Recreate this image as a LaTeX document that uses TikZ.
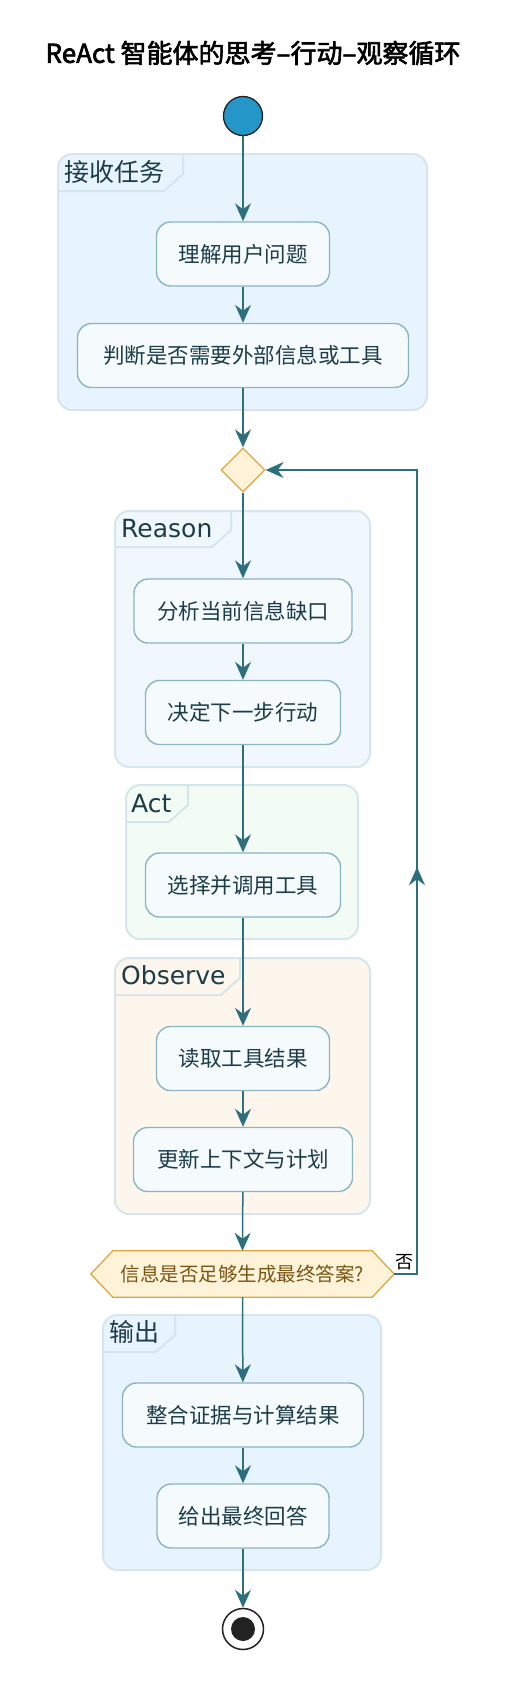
\documentclass[tikz,border=0pt]{standalone}
\usepackage{fontspec}
\setmainfont{Noto Sans CJK SC}
\newfontfamily\titlefont{Noto Sans CJK SC}[FakeBold=2.4]
\newfontfamily\latinlab{DejaVu Sans}
\usetikzlibrary{shapes.geometric,arrows.meta,decorations.markings,calc}
\definecolor{flowcol}{HTML}{2E6F7E}
\definecolor{boxline}{HTML}{8AB5C2}
\definecolor{boxfill}{HTML}{F5FAFD}
\definecolor{txt}{HTML}{1C3D48}
\definecolor{partline}{HTML}{D5E6EC}
\definecolor{pblue}{HTML}{E8F4FD}
\definecolor{preason}{HTML}{F0F7FD}
\definecolor{pact}{HTML}{F2FCF5}
\definecolor{pobs}{HTML}{FDF6EC}
\definecolor{diafill}{HTML}{FEF3D8}
\definecolor{dialine}{HTML}{E0A640}
\definecolor{hextxt}{HTML}{7A5512}
\definecolor{startfill}{HTML}{2596C8}
\definecolor{dark}{HTML}{222222}
\tikzset{
  arrowtip/.tip={Stealth[length=18pt,width=16pt,inset=6pt]},
  flow/.style={draw=flowcol,line width=1.5pt,-{arrowtip}},
  actbox/.style={draw=boxline,fill=boxfill,rounded corners=14pt,line width=1.4pt,
    text=txt,font=\fontsize{21.5}{24}\selectfont,inner sep=0pt,minimum height=64pt},
  partbox/.style={draw=partline,line width=2pt,rounded corners=14pt},
  parttab/.style={draw=partline,line width=2pt},
  plabel/.style={text=txt,font=\fontsize{25}{28}\selectfont,inner sep=0pt,anchor=base west},
  plabellat/.style={plabel,font=\latinlab\fontsize{25}{28}\selectfont},
}
\begin{document}
\begin{tikzpicture}[x=1pt,y=-1pt]
\useasboundingbox (0,0) rectangle (510,1686);
\fill[white] (0,0) rectangle (510,1686);

% title
\node[font=\titlefont\fontsize{26}{28}\selectfont,text=black,inner sep=0pt] (title) at (253,53) {ReAct 智能体的思考–行动–观察循环};

% partitions
\draw[partbox,fill=pblue] (58,154) rectangle (427,410);
\draw[parttab] (183,154) -- (183,174) -- (164,191) -- (58,191);
\node[plabel] (lab1) at (64,181) {接收任务};

\draw[partbox,fill=preason] (115,511) rectangle (370,767);
\draw[parttab] (231,511) -- (231,530) -- (212,547) -- (115,547);
\node[plabellat] (lab2) at (121,537) {Reason};

\draw[partbox,fill=pact] (126,785) rectangle (358,939);
\draw[parttab] (188,785) -- (188,805) -- (169,822) -- (126,822);
\node[plabellat] (lab3) at (131,812) {Act};

\draw[partbox,fill=pobs] (115,958) rectangle (370,1214);
\draw[parttab] (240,958) -- (240,978) -- (221,995) -- (115,995);
\node[plabellat] (lab4) at (121,984) {Observe};

\draw[partbox,fill=pblue] (103,1315) rectangle (381,1570);
\draw[parttab] (175,1315) -- (175,1335) -- (156,1352) -- (103,1352);
\node[plabel] (lab5) at (109,1341) {输出};

% start / end
\node[circle,fill=startfill,draw=dark,line width=1.3pt,minimum size=39pt,inner sep=0pt] (start) at (243,116) {};
\node[circle,fill=white,draw=dark,line width=1.5pt,minimum size=41pt,inner sep=0pt] (end) at (243,1629) {};
\fill[dark] (end.center) circle (12pt);

% action boxes
\node[actbox,minimum width=173pt] (b1) at (243,254) {理解用户问题};
\node[actbox,minimum width=331pt] (b2) at (243,355.5) {判断是否需要外部信息或工具};
\node[diamond,draw=dialine,fill=diafill,line width=1.3pt,minimum width=44pt,minimum height=44pt,inner sep=0pt] (dia) at (243,470) {};
\node[actbox,minimum width=218pt] (b3) at (243,611) {分析当前信息缺口};
\node[actbox,minimum width=195pt] (b4) at (243,712.5) {决定下一步行动};
\node[actbox,minimum width=195pt] (b5) at (243,885) {选择并调用工具};
\node[actbox,minimum width=173pt] (b6) at (243,1058.5) {读取工具结果};
\node[actbox,minimum width=219pt] (b7) at (243,1159.5) {更新上下文与计划};

% hexagon decision
\node[inner sep=0pt,minimum width=259pt,minimum height=46pt] (hex) at (242.5,1274) {};
\coordinate (hexE) at ($(hex.east)+(22,0)$);
\coordinate (hexW) at ($(hex.west)+(-22,0)$);
\path[draw=dialine,fill=diafill,line width=1.3pt] (hexW) -- (hex.north west) -- (hex.north east) -- (hexE) -- (hex.south east) -- (hex.south west) -- cycle;
\node[inner sep=0pt,text=hextxt,font=\fontsize{19.5}{22}\selectfont] (hextext) at (hex.center) {信息是否足够生成最终答案?};

\node[actbox,minimum width=241pt] (b8) at (243,1415) {整合证据与计算结果};
\node[actbox,minimum width=172pt] (b9) at (243,1516) {给出最终回答};

% connectors
\draw[flow] (start) -- (b1);
\draw[flow] (b1) -- (b2);
\draw[flow] (b2) -- (dia.north);
\draw[flow] (dia.south) -- (b3);
\draw[flow] (b3) -- (b4);
\draw[flow] (b4) -- (b5);
\draw[flow] (b5) -- (b6);
\draw[flow] (b6) -- (b7);
\draw[flow] (b7) -- (hex.north);
\draw[flow] (hex.south) -- (b8);
\draw[flow] (b8) -- (b9);
\draw[flow] (b9) -- (end);

% loop back
\coordinate (loopB) at (417,1274);
\coordinate (loopT) at (417,470);
\draw[flow] (hexE) -- (loopB) -- (loopT) -- (dia.east);
\path[color=flowcol,postaction={decorate},decoration={markings,mark=at position 0.506 with {\arrow[flowcol]{arrowtip}}}] (loopB) -- (loopT);
\node[font=\fontsize{18}{20}\selectfont,text=black,inner sep=0pt] (no) at (404,1262) {否};
\end{tikzpicture}
\end{document}
